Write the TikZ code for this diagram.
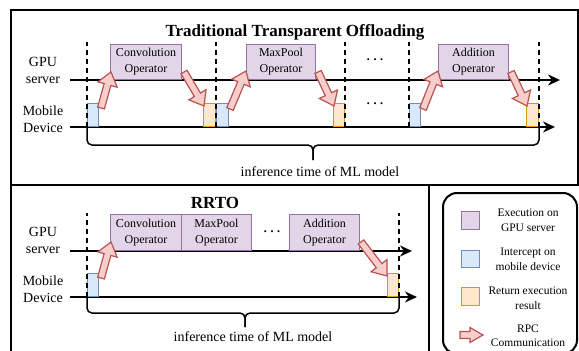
\documentclass[tikz,border=0pt]{standalone}
\usepackage{fontspec}
\setmainfont{Liberation Serif}
\usetikzlibrary{calc, arrows.meta}
\definecolor{opfill}{HTML}{E1D5E7}
\definecolor{opdraw}{HTML}{9673A6}
\definecolor{icfill}{HTML}{DAE8FC}
\definecolor{icdraw}{HTML}{6C8EBF}
\definecolor{retfill}{HTML}{FFE6CC}
\definecolor{retdraw}{HTML}{D79B00}
\definecolor{rpcfill}{HTML}{F8CECC}
\definecolor{rpcdraw}{HTML}{B85450}
\newcommand{\rpcarrow}[3][10]{\draw[rpc] let \p1=($(#3)-(#2)$), \n1={atan2(\y1,\x1)}, \n2={veclen(\x1,\y1)} in
    [shift={(#2)}, rotate=\n1] (0,3.5) -- (\n2-13,3.5) -- (\n2-13,#1) -- (\n2,0) -- (\n2-13,-#1) -- (\n2-13,-3.5) -- (0,-3.5) -- cycle;}
\newcommand{\opdots}{\textbullet\hspace{3.6pt}\textbullet\hspace{3.6pt}\textbullet}

\begin{document}
\begin{tikzpicture}[x=1pt,y=-1pt,
                frame/.style={line width=2pt},
                timeline/.style={line width=2pt,-{Stealth[length=12pt,width=11pt]}},
                sync/.style={line width=1.5pt,dash pattern=on 5pt off 4pt},
                brace/.style={line width=1.5pt,rounded corners=5pt},
                op/.style={draw=opdraw,fill=opfill,line width=1pt,minimum height=35pt,inner sep=0pt,align=center,anchor=south west,font=\fontsize{12}{16}\selectfont},
                icpt/.style={draw=icdraw,fill=icfill,line width=1pt,minimum width=11pt,minimum height=23pt,inner sep=0pt},
                ret/.style={draw=retdraw,fill=retfill,line width=1pt,minimum width=11pt,minimum height=23pt,inner sep=0pt},
                rpc/.style={draw=rpcdraw,fill=rpcfill,line width=1.2pt},
                lbl/.style={align=center,font=\fontsize{14}{17}\selectfont},
                ttl/.style={font=\bfseries\fontsize{17}{20}\selectfont},
                key/.style={align=center,font=\fontsize{11.5}{14.5}\selectfont},
                dots/.style={inner sep=0pt,font=\fontsize{8.5}{9}\selectfont}]
                \useasboundingbox (0,0) rectangle (579,351);
                \draw[frame] (11,10) rectangle (578,185);
                \draw[frame] (11,185) -- (11,352);
                \draw[frame] (429,185) -- (429,352);
                \node[ttl] (title1) at (295,32) {Traditional Transparent Offloading};
                \node[lbl] (gpu1) at (43,70) {GPU\\server};
                \node[lbl] (mob1) at (43,119) {Mobile\\Device};
                \coordinate (g1s) at (70,80);
                \coordinate (g1e) at (560,80);
                \coordinate (m1s) at (70,127);
                \coordinate (m1e) at (555,127);
                \draw[timeline] (g1s) -- (g1e);
                \draw[timeline] (m1s) -- (m1e);
                \node[op,minimum width=71pt] (conv1) at (110,80) {Convolution\\Operator};
                \node[op,minimum width=69pt] (pool1) at (246,80) {MaxPool\\Operator};
                \node[op,minimum width=70pt] (add1) at (438,80) {Addition\\Operator};
                \node[icpt,anchor=south west] (b1) at (87,127) {};
                \node[icpt,anchor=south west,minimum width=12pt] (b2) at (216,127) {};
                \node[icpt,anchor=south west] (b3) at (409,127) {};
                \node[ret,anchor=south east,minimum width=12pt] (r1) at (216,127) {};
                \node[ret,anchor=south east] (r2) at (345,127) {};
                \node[ret,anchor=south east,minimum width=12pt] (r3) at (539,127) {};
                \node[dots] (d1) at (375,61) {\opdots};
                \node[dots] (d2) at (375,105) {\opdots};
                \draw[sync] (b1.south west) -- ++(0,-85);
                \draw[sync] (b2.south west) -- ++(0,-85);
                \draw[sync] (r2.south east) -- ++(0,-85);
                \draw[sync] (b3.south west) -- ++(0,-85);
                \draw[sync] (r3.south east) -- ++(0,-85);
                \rpcarrow{$(b1.north east)+(2,5)$}{$(conv1.south west)+(1,-8)$}
                \rpcarrow{$(conv1.south east)+(2,-8)$}{$(r1.north west)+(1,3)$}
                \rpcarrow{$(b2.north east)+(1,6)$}{$(pool1.south west)+(0,-9)$}
                \rpcarrow{$(pool1.south east)+(2,-8)$}{$(r2.north west)+(1,3)$}
                \rpcarrow{$(b3.north east)+(2,6)$}{$(add1.south west)+(0,-9)$}
                \rpcarrow{$(add1.south east)+(2,-8)$}{$(r3.north west)+(1,3)$}
                \coordinate (t1) at (313,160);
                \draw[brace] (b1.south west) |- ($(t1)+(0,-15)$) -- (t1);
                \draw[brace] (t1) -- ++(0,-15) -| (r3.south east);
                \node[lbl] (inf1) at (320,172) {inference time of ML model};
                \node[ttl] (title2) at (215,203) {RRTO};
                \node[lbl] (gpu2) at (43,240) {GPU\\server};
                \node[lbl] (mob2) at (43,289) {Mobile\\Device};
                \coordinate (g2s) at (70,251);
                \coordinate (g2e) at (412,251);
                \coordinate (m2s) at (70,297);
                \coordinate (m2e) at (417,297);
                \draw[timeline] (g2s) -- (g2e);
                \draw[timeline] (m2s) -- (m2e);
                \node[op,minimum width=71pt,minimum height=36pt] (conv2) at (110,251) {Convolution\\Operator};
                \node[op,minimum width=70pt,minimum height=36pt] (pool2) at (181,251) {MaxPool\\Operator};
                \node[op,minimum width=70pt,minimum height=36pt] (add2) at (289,251) {Addition\\Operator};
                \node[dots] (d3) at (272,233) {\opdots};
                \node[icpt,anchor=south west] (b4) at (87,297) {};
                \node[ret,anchor=south east] (r4) at (399,297) {};
                \draw[sync] (b4.south west) -- ++(0,-84);
                \draw[sync] (r4.south east) -- ++(0,-84);
                \rpcarrow{$(b4.north east)+(2,5)$}{$(conv2.south west)+(1,-9)$}
                \rpcarrow{$(add2.south east)+(1,-9)$}{$(r4.north west)+(0,3)$}
                \coordinate (t2) at (245,327);
                \draw[brace] (b4.south west) |- ($(t2)+(0,-14)$) -- (t2);
                \draw[brace] (t2) -- ++(0,-14) -| (r4.south east);
                \node[lbl] (inf2) at (253,337) {inference time of ML model};
                \draw[frame,rounded corners=14pt] (443,193) rectangle (577,354);
                \node[draw=opdraw,fill=opfill,line width=1pt,minimum width=18pt,minimum height=18pt,inner sep=0pt] (k1) at (470,220) {};
                \node[icpt,minimum width=18pt,minimum height=17pt] (k2) at (470,258.5) {};
                \node[ret,minimum width=18pt,minimum height=18pt] (k3) at (470,296) {};
                \coordinate (k4s) at (460,335);
                \coordinate (k4e) at (483,335);
                \rpcarrow[7.5]{k4s}{k4e}
                \node[key] (k1t) at (528,220) {Execution on\\GPU server};
                \node[key] (k2t) at (528,259.5) {Intercept on\\mobile device};
                \node[key] (k3t) at (528,298) {Return execution\\result};
                \node[key] (k4t) at (528,335.5) {RPC\\Communication};
            \end{tikzpicture}
\end{document}
